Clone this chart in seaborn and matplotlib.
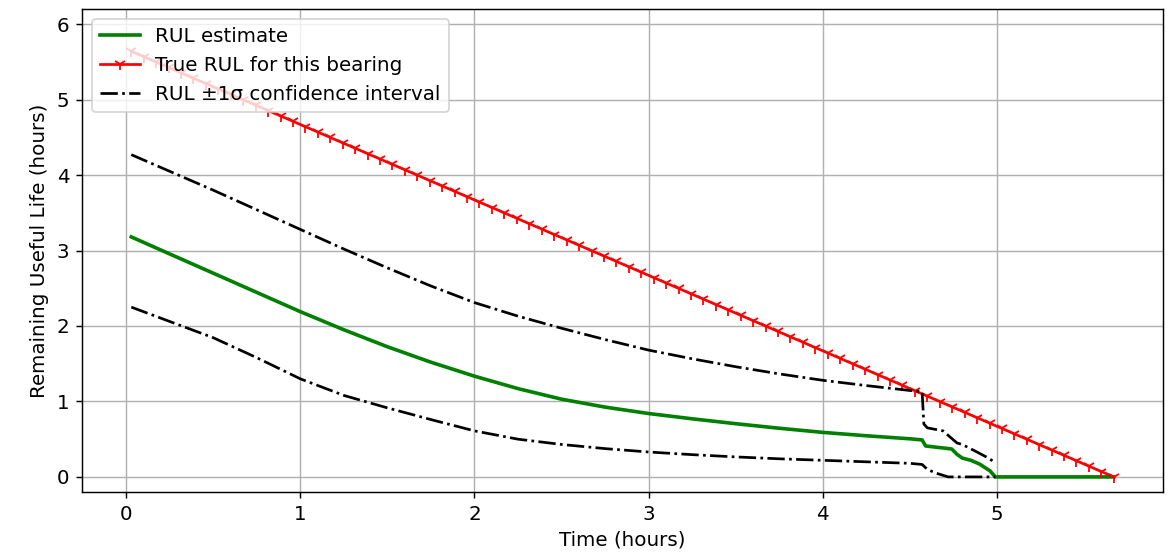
import matplotlib
matplotlib.use("Agg")
import matplotlib.pyplot as plt
import seaborn as sns

plt.rcParams["font.size"] = 11

# Time axis of the ground-truth curve (hours) and the true remaining life
time_true = [
    0.030, 0.101, 0.173, 0.244, 0.316, 0.387, 0.458, 0.530, 0.601, 0.673,
    0.744, 0.815, 0.887, 0.958, 1.030, 1.101, 1.172, 1.244, 1.315, 1.387,
    1.458, 1.529, 1.601, 1.672, 1.744, 1.815, 1.886, 1.958, 2.029, 2.101,
    2.172, 2.243, 2.315, 2.386, 2.458, 2.529, 2.600, 2.672, 2.743, 2.815,
    2.886, 2.957, 3.029, 3.100, 3.172, 3.243, 3.314, 3.386, 3.457, 3.529,
    3.600, 3.671, 3.743, 3.814, 3.886, 3.957, 4.028, 4.100, 4.171, 4.243,
    4.314, 4.385, 4.457, 4.528, 4.600, 4.671, 4.742, 4.814, 4.885, 4.957,
    5.028, 5.099, 5.171, 5.242, 5.314, 5.385, 5.456, 5.528, 5.599, 5.670,
]
rul_true = [
    5.640, 5.569, 5.497, 5.426, 5.354, 5.283, 5.212, 5.140, 5.069, 4.997,
    4.926, 4.855, 4.783, 4.712, 4.640, 4.569, 4.498, 4.426, 4.355, 4.283,
    4.212, 4.141, 4.069, 3.998, 3.926, 3.855, 3.784, 3.712, 3.641, 3.569,
    3.498, 3.427, 3.355, 3.284, 3.212, 3.141, 3.070, 2.998, 2.927, 2.855,
    2.784, 2.713, 2.641, 2.570, 2.498, 2.427, 2.356, 2.284, 2.213, 2.141,
    2.070, 1.999, 1.927, 1.856, 1.784, 1.713, 1.642, 1.570, 1.499, 1.427,
    1.356, 1.285, 1.213, 1.142, 1.070, 0.999, 0.928, 0.856, 0.785, 0.713,
    0.642, 0.571, 0.499, 0.428, 0.356, 0.285, 0.214, 0.142, 0.071, 0.000,
]

# Model estimate of remaining life
time_est = [0.03, 0.25, 0.50, 0.75, 1.00, 1.25, 1.50, 1.75, 2.00, 2.25,
            2.50, 2.75, 3.00, 3.25, 3.50, 3.75, 4.00, 4.25, 4.50, 4.57,
            4.59, 4.74, 4.77, 4.80, 4.85, 4.90, 4.96, 4.99, 5.67]
rul_est = [3.18, 2.955, 2.70, 2.445, 2.19, 1.95, 1.725, 1.52, 1.335, 1.17,
           1.03, 0.925, 0.84, 0.77, 0.705, 0.645, 0.59, 0.545, 0.505, 0.49,
           0.41, 0.37, 0.30, 0.25, 0.22, 0.17, 0.08, 0.00, 0.00]

# Upper bound of the +-1 sigma band
time_upper = [0.03, 0.25, 0.50, 0.75, 1.00, 1.25, 1.50, 1.75, 2.00, 2.25,
              2.50, 2.75, 3.00, 3.25, 3.50, 3.75, 4.00, 4.25, 4.50, 4.57,
              4.58, 4.60, 4.69, 4.77, 4.80, 4.885, 4.95, 4.99]
rul_upper = [4.27, 4.05, 3.80, 3.54, 3.28, 3.02, 2.77, 2.53, 2.31, 2.13,
             1.97, 1.82, 1.68, 1.565, 1.46, 1.365, 1.28, 1.21, 1.145, 1.13,
             0.70, 0.65, 0.61, 0.45, 0.43, 0.33, 0.25, 0.19]

# Lower bound of the +-1 sigma band
time_lower = [0.03, 0.25, 0.50, 0.75, 1.00, 1.25, 1.50, 1.75, 2.00, 2.25,
              2.50, 2.75, 3.00, 3.25, 3.50, 3.75, 4.00, 4.25, 4.50, 4.57,
              4.60, 4.65, 4.72, 4.99]
rul_lower = [2.25, 2.06, 1.845, 1.58, 1.30, 1.08, 0.915, 0.76, 0.61, 0.50,
             0.43, 0.375, 0.33, 0.295, 0.265, 0.24, 0.22, 0.20, 0.18, 0.165,
             0.10, 0.05, 0.00, 0.00]

fig = plt.figure(figsize=(1173 / 130, 556 / 130), dpi=130)
ax = fig.add_axes([0.0699, 0.1151, 0.9216, 0.8687])

sns.lineplot(x=time_est, y=rul_est, ax=ax, color="green", linewidth=2,
             label="RUL estimate", sort=False)
sns.lineplot(x=time_true, y=rul_true, ax=ax, color="red", linewidth=1.5,
             marker="1", markersize=6.5, markeredgecolor="red",
             markerfacecolor="red", markeredgewidth=1.0,
             label="True RUL for this bearing", sort=False)
sns.lineplot(x=time_upper, y=rul_upper, ax=ax, color="black", linewidth=1.5,
             linestyle="-.", label="RUL \u00b11\u03c3 confidence interval",
             sort=False)
sns.lineplot(x=time_lower, y=rul_lower, ax=ax, color="black", linewidth=1.5,
             linestyle="-.", sort=False)

ax.set_xlim(-0.253, 5.953)
ax.set_ylim(-0.20, 6.20)
ax.set_xticks([0, 1, 2, 3, 4, 5])
ax.set_yticks([0, 1, 2, 3, 4, 5, 6])
ax.set_xlabel("Time (hours)")
ax.set_ylabel("Remaining Useful Life (hours)")
ax.grid(True)
ax.legend(loc="upper left")

fig.savefig("out.png", dpi=130)
